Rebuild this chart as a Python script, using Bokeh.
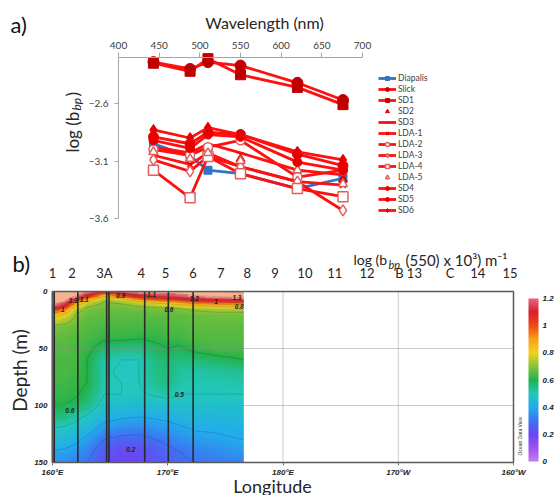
import numpy as np
from bokeh.plotting import figure
from bokeh.models import (Range1d, LinearAxis, FixedTicker, Label, Legend, LegendItem,
                          LinearColorMapper, ColorBar)
from bokeh.embed import file_html
from bokeh.resources import INLINE
from bokeh.core.properties import value

# ---------------- Panel a data ----------------
wavelength_nm = [443, 488, 510, 550, 620, 676]
diapalis = [-2.95, -3.06, -3.18, -3.21, -3.34, -3.25]
slick = [-2.24, -2.30, -2.24, -2.27, -2.42, -2.57]
sd1 = [-2.25, -2.32, -2.21, -2.35, -2.46, -2.61]
sd2 = [-3.02, -3.08, -2.98, -3.08, -3.18, -3.26]
sd3 = [-2.98, -3.03, -2.95, -3.03, -3.18, -3.22]
lda1 = [-3.05, -3.13, -3.03, -3.15, -3.28, -3.31]
lda2 = [-3.00, -3.05, -2.98, -2.92, -3.24, -3.18]
lda3 = [-3.09, -3.19, -3.06, -3.15, -3.28, -3.53]
lda4 = [-3.18, -3.42, -3.06, -3.21, -3.34, -3.41]
lda5 = [-3.02, -3.08, -3.03, -3.10, -3.18, -3.30]
sd4 = [-2.92, -2.99, -2.87, -2.89, -3.11, -3.18]
sd5 = [-2.89, -2.95, -2.85, -2.87, -3.04, -3.14]
sd6 = [-2.83, -2.90, -2.81, -2.87, -3.02, -3.09]
wl_ticks = [400, 450, 500, 550, 600, 650, 700]
logbbp_ticks = [-3.6, -3.1, -2.6]

# ---------------- Panel b data ----------------
depth_nodes = [0, 3, 6, 9, 12, 15, 20, 30, 40, 50, 60, 70, 80, 90, 100, 110, 120, 130, 140, 150]
lon_nodes = [160, 161, 162, 163, 164.5, 166, 167.5, 169, 170, 171, 172.5, 174.5, 176.6]
bbp_profiles = [
    [1.30, 1.30, 1.28, 1.25, 1.20, 1.08, 0.85, 0.70, 0.66, 0.65, 0.64, 0.64, 0.63, 0.62, 0.60, 0.56, 0.50, 0.45, 0.40, 0.36],
    [1.30, 1.30, 1.26, 1.20, 1.10, 0.95, 0.80, 0.68, 0.66, 0.65, 0.64, 0.64, 0.63, 0.62, 0.60, 0.55, 0.49, 0.44, 0.39, 0.35],
    [1.28, 1.24, 1.12, 0.95, 0.82, 0.74, 0.70, 0.67, 0.65, 0.64, 0.64, 0.63, 0.62, 0.61, 0.58, 0.52, 0.47, 0.42, 0.37, 0.33],
    [1.22, 1.10, 0.90, 0.78, 0.72, 0.69, 0.67, 0.65, 0.64, 0.62, 0.60, 0.60, 0.60, 0.58, 0.55, 0.49, 0.44, 0.38, 0.33, 0.30],
    [1.12, 0.85, 0.74, 0.70, 0.68, 0.67, 0.66, 0.64, 0.62, 0.56, 0.52, 0.51, 0.51, 0.50, 0.47, 0.43, 0.37, 0.30, 0.25, 0.23],
    [1.18, 1.00, 0.82, 0.72, 0.69, 0.67, 0.66, 0.64, 0.62, 0.55, 0.50, 0.49, 0.50, 0.50, 0.46, 0.41, 0.35, 0.27, 0.21, 0.20],
    [1.25, 1.12, 0.95, 0.78, 0.71, 0.68, 0.66, 0.64, 0.61, 0.55, 0.50, 0.50, 0.50, 0.49, 0.45, 0.40, 0.34, 0.27, 0.22, 0.21],
    [1.25, 1.15, 1.02, 0.85, 0.73, 0.69, 0.66, 0.64, 0.62, 0.58, 0.56, 0.55, 0.54, 0.51, 0.46, 0.41, 0.36, 0.30, 0.25, 0.24],
    [1.25, 1.16, 1.05, 0.88, 0.75, 0.69, 0.66, 0.65, 0.63, 0.60, 0.57, 0.56, 0.55, 0.52, 0.47, 0.42, 0.37, 0.32, 0.28, 0.26],
    [1.26, 1.18, 1.08, 0.92, 0.78, 0.70, 0.66, 0.65, 0.63, 0.59, 0.55, 0.53, 0.52, 0.50, 0.47, 0.43, 0.39, 0.35, 0.30, 0.28],
    [1.28, 1.22, 1.12, 1.00, 0.82, 0.72, 0.67, 0.66, 0.65, 0.62, 0.56, 0.52, 0.51, 0.50, 0.47, 0.44, 0.41, 0.37, 0.33, 0.30],
    [1.30, 1.26, 1.15, 1.02, 0.85, 0.74, 0.68, 0.66, 0.65, 0.64, 0.58, 0.53, 0.51, 0.50, 0.47, 0.44, 0.41, 0.39, 0.35, 0.32],
    [1.32, 1.28, 1.18, 1.05, 0.85, 0.74, 0.68, 0.66, 0.65, 0.64, 0.60, 0.54, 0.52, 0.50, 0.47, 0.45, 0.42, 0.40, 0.37, 0.33],
]
contour_levels = [0.2, 0.3, 0.4, 0.5, 0.6, 0.7, 0.8, 0.9, 1.0, 1.1, 1.2, 1.3]
station_line_lons = [160.0, 160.15, 162.2, 164.7, 164.9, 168.0, 170.05, 172.2]
station_names = ["1", "2", "3A", "4", "5", "6", "7", "8", "9", "10", "11", "12", "B", "13", "C", "14", "15"]
station_lons = [160.0, 161.7, 164.5, 167.7, 169.8, 172.2, 174.6, 176.9, 179.3, 181.9, 184.5, 187.3, 190.1, 191.4, 194.5, 196.9, 199.7]
lon_ticks = [160, 170, 180, 190, 200]
lon_tick_labels = ["160°E", "170°E", "180°E", "170°W", "160°W"]
depth_ticks = [0, 50, 100, 150]
grid_lons = [180, 190]
grid_depths = [50, 100]
cbar_ticks = [0, 0.2, 0.4, 0.6, 0.8, 1.0, 1.2]
cbar_tick_labels = ["0", "0.2", "0.4", "0.6", "0.8", "1", "1.2"]
contour_lbl_lon = [161.8, 162.75, 160.9, 165.9, 168.6, 172.3, 174.2, 176.0, 176.2, 170.1, 161.5, 171.0, 166.8]
contour_lbl_dep = [8, 7, 16, 3.5, 3, 6.5, 9, 5, 13, 16, 104, 90, 139]
contour_lbl_txt = ["1.3", "1.1", "1", "0.9", "1.1", "1.2", "1", "1.3", "0.8", "0.6", "0.6", "0.5", "0.2"]

SANS = "Lato"
ODV = "Liberation Sans"
RED = "#FF1010"
DRED = "#C00000"
MRED = "#E80000"
OPEN = "#E06060"
BLUE = "#2E75C6"
TXT = "#262626"


def lab(p, x, y, text, size, **kw):
    p.add_layout(Label(x=x, y=y, x_units="screen", y_units="screen", text=text,
                       text_font=kw.pop("font", SANS), text_font_size=size,
                       text_color=kw.pop("color", TXT), **kw))


# ---------------- Panel a (frame = whole canvas; axes at fixed locations) ----------------
WA, HA = 556, 243
pa = figure(width=WA, height=HA, x_range=Range1d(254.918, 938.525), y_range=Range1d(-3.81739, -1.70435),
            output_backend="svg", toolbar_location=None, min_border=0,
            min_border_left=0, min_border_right=0, min_border_top=0, min_border_bottom=0,
            x_axis_type=None, y_axis_type=None)
pa.title.visible = False
pa.outline_line_color = None
pa.grid.visible = False

xa = LinearAxis(fixed_location=-2.2, bounds=(400, 700), ticker=FixedTicker(ticks=wl_ticks))
xa.major_tick_out = 5
xa.major_tick_in = 0
xa.minor_tick_line_color = None
xa.axis_line_color = "#A6A6A6"
xa.major_tick_line_color = "#A6A6A6"
xa.major_label_text_font = SANS
xa.major_label_text_font_size = "10px"
xa.major_label_text_color = "#404040"
xa.major_label_standoff = 3
pa.add_layout(xa, "above")

ya = LinearAxis(fixed_location=400, bounds=(-3.6, -2.2), ticker=FixedTicker(ticks=logbbp_ticks))
ya.major_tick_out = 4
ya.major_tick_in = 0
ya.minor_tick_line_color = None
ya.axis_line_color = "#A6A6A6"
ya.major_tick_line_color = "#A6A6A6"
ya.major_label_text_font = SANS
ya.major_label_text_font_size = "10px"
ya.major_label_text_color = "#404040"
ya.major_label_standoff = 6
pa.add_layout(ya, "left")

series = [
    ("Diapalis", diapalis, dict(line=BLUE, marker="square", size=8, fill=BLUE, mline=BLUE)),
    ("Slick", slick, dict(line=RED, marker="circle", size=11, fill=DRED, mline=DRED)),
    ("SD1", sd1, dict(line=RED, marker="square", size=10, fill=DRED, mline=DRED)),
    ("SD2", sd2, dict(line=None, marker="triangle", size=9, fill=MRED, mline=MRED)),
    ("SD3", sd3, dict(line=RED, marker="dash", size=7, fill=MRED, mline=MRED)),
    ("LDA-1", lda1, dict(line=RED, marker="x", size=8, fill=None, mline=MRED)),
    ("LDA-2", lda2, dict(line=RED, marker="circle", size=9, fill="white", mline=OPEN)),
    ("LDA-3", lda3, dict(line=RED, marker="diamond", size=11, fill="white", mline=OPEN)),
    ("LDA-4", lda4, dict(line=RED, marker="square", size=10, fill="white", mline=OPEN)),
    ("LDA-5", lda5, dict(line=None, marker="triangle", size=9, fill="white", mline=OPEN)),
    ("SD4", sd4, dict(line=RED, marker="circle", size=9, fill=MRED, mline=MRED)),
    ("SD5", sd5, dict(line=RED, marker="circle", size=10, fill=MRED, mline=MRED)),
    ("SD6", sd6, dict(line=RED, marker="diamond", size=11, fill=MRED, mline=MRED)),
]
items = []
for name, vals, st in series:
    rends = []
    if st["line"] is not None:
        rends.append(pa.line(wavelength_nm, vals, line_color=st["line"], line_width=2.8))
    rends.append(pa.scatter(wavelength_nm, vals, marker=st["marker"], size=st["size"],
                            fill_color=st["fill"], line_color=st["mline"],
                            line_width=1.5 if st["fill"] in (None, "white") else 1))
    items.append(LegendItem(label=name, renderers=rends))

legend = Legend(items=items, location=(378, 28.5), margin=0, padding=0, spacing=1,
                glyph_width=18, glyph_height=10, label_height=10, label_standoff=2,
                label_text_font=SANS, label_text_font_size="8.5px", label_text_color="#404040",
                border_line_color=None, background_fill_alpha=0)
pa.add_layout(legend)

lab(pa, 10, HA - 24, "a)", "22px", text_baseline="middle", color="#111111")
lab(pa, 264, HA - 22, "Wavelength (nm)", "16px", text_baseline="middle", text_align="center")
lab(pa, 72, HA - 152, "log (b", "17px", angle=np.pi / 2, text_baseline="middle", text_align="left")
lab(pa, 76, HA - 110, "bp", "12px", angle=np.pi / 2, text_baseline="middle", text_align="left",
    text_font_style="italic")
lab(pa, 72, HA - 96, ")", "17px", angle=np.pi / 2, text_baseline="middle", text_align="left")

# ---------------- Panel b ----------------
stops = [(0.0, "#C77CF2"), (0.1, "#9A52F5"), (0.2, "#6B45F2"), (0.3, "#3E73F2"), (0.4, "#22ACEB"),
         (0.5, "#22C8BC"), (0.6, "#22B24A"), (0.7, "#86C23A"), (0.8, "#F2D21E"), (0.9, "#F7A21A"),
         (1.0, "#EE4A14"), (1.1, "#D81E2C"), (1.2, "#E5667C")]


def hex2rgb(h):
    return [int(h[i:i + 2], 16) for i in (1, 3, 5)]


sv = [s[0] for s in stops]
sc = np.array([hex2rgb(s[1]) for s in stops], dtype=float)
palette = []
for t in np.linspace(0, 1.2, 256):
    rgb = [int(round(np.interp(t, sv, sc[:, k]))) for k in range(3)]
    palette.append("#%02x%02x%02x" % tuple(rgb))

mapper = LinearColorMapper(palette=palette, low=0, high=1.2, high_color="#F5B38E", low_color="#C77CF2")

P = np.array(bbp_profiles)
dep_f = np.linspace(0, 150, 151)
lon_f = np.linspace(lon_nodes[0], lon_nodes[-1], 167)
tmp = np.array([np.interp(dep_f, depth_nodes, col) for col in P])
Z = np.array([np.interp(lon_f, lon_nodes, tmp[:, j]) for j in range(len(dep_f))])

WB, HB = 556, 252
pb = figure(width=WB, height=HB, x_range=Range1d(155.488, 203.731), y_range=Range1d(178.947, -42.105),
            output_backend="svg", toolbar_location=None, min_border=0,
            min_border_left=0, min_border_right=0, min_border_top=0, min_border_bottom=0,
            x_axis_type=None, y_axis_type=None)
pb.title.visible = False
pb.outline_line_color = None
pb.grid.visible = False

pb.image(image=[Z], x=lon_nodes[0], y=0, dw=lon_nodes[-1] - lon_nodes[0], dh=150, color_mapper=mapper)
pb.contour(lon_f, dep_f, Z, levels=contour_levels, line_color="#1a1a1a", line_alpha=0.28,
           line_width=0.6)
pb.segment(x0=grid_lons, y0=[0] * len(grid_lons), x1=grid_lons, y1=[150] * len(grid_lons),
           line_color="#8a8a8a", line_alpha=0.45, line_width=1)
pb.segment(x0=[160] * len(grid_depths), y0=grid_depths, x1=[200] * len(grid_depths), y1=grid_depths,
           line_color="#8a8a8a", line_alpha=0.45, line_width=1)
pb.segment(x0=station_line_lons, y0=[0] * len(station_line_lons), x1=station_line_lons,
           y1=[150] * len(station_line_lons), line_color="#2a2a2a", line_width=1.6)
pb.quad(left=[160], right=[200], top=[0], bottom=[150], fill_color=None, line_color="#5a5a5a",
        line_width=1.5)
pb.text(x=contour_lbl_lon, y=contour_lbl_dep, text=contour_lbl_txt, text_font=value(ODV),
        text_font_size="6.5px", text_font_style="bold italic", text_color="#222222",
        text_align="center", text_baseline="middle")

xb = LinearAxis(fixed_location=150, bounds=(160, 200), ticker=FixedTicker(ticks=lon_ticks),
                major_label_overrides={t: l for t, l in zip(lon_ticks, lon_tick_labels)})
xb.axis_line_color = None
xb.major_tick_out = 3
xb.major_tick_in = 0
xb.major_tick_line_color = "#777777"
xb.minor_tick_line_color = None
xb.major_label_text_font = ODV
xb.major_label_text_font_size = "8px"
xb.major_label_text_font_style = "bold italic"
xb.major_label_text_color = "#222222"
xb.major_label_standoff = 2
pb.add_layout(xb, "below")

yb = LinearAxis(fixed_location=160, bounds=(0, 150), ticker=FixedTicker(ticks=depth_ticks))
yb.axis_line_color = None
yb.major_tick_out = 0
yb.major_tick_in = 0
yb.major_tick_line_color = None
yb.minor_tick_line_color = None
yb.major_label_text_font = ODV
yb.major_label_text_font_size = "8px"
yb.major_label_text_font_style = "bold italic"
yb.major_label_text_color = "#222222"
yb.major_label_standoff = 5
pb.add_layout(yb, "left")

top_axis = LinearAxis(fixed_location=0, bounds=(160, 200), ticker=FixedTicker(ticks=station_lons),
                      major_label_overrides={t: n for t, n in zip(station_lons, station_names)})
top_axis.axis_line_color = None
top_axis.major_tick_line_color = None
top_axis.minor_tick_line_color = None
top_axis.major_label_text_font = SANS
top_axis.major_label_text_font_size = "13px"
top_axis.major_label_text_color = TXT
top_axis.major_label_standoff = 4
pb.add_layout(top_axis, "above")

cbar = ColorBar(color_mapper=mapper, ticker=FixedTicker(ticks=cbar_ticks),
                major_label_overrides={t: l for t, l in zip(cbar_ticks, cbar_tick_labels)},
                width=10, height=163, location=(528, HB - 218), margin=0, padding=0,
                label_standoff=4, major_tick_line_color=None, bar_line_color=None,
                major_label_text_font=ODV, major_label_text_font_size="8px",
                major_label_text_font_style="bold italic", major_label_text_color="#222222",
                background_fill_alpha=0, border_line_color=None)
pb.add_layout(cbar)

lab(pb, 12, HB - 20, "b)", "22px", text_baseline="middle", color="#111111")
lab(pb, 353, HB - 16, "log (b", "14px", text_baseline="middle")
lab(pb, 388, HB - 21, "bp", "11px", text_baseline="middle", text_font_style="italic")
lab(pb, 405, HB - 16, "(550) x 10³) m⁻¹", "15px", text_baseline="middle")
lab(pb, 19, HB - 127, "Depth (m)", "19px", angle=np.pi / 2, text_align="center", text_baseline="middle")
lab(pb, 272, 10, "Longitude", "18px", text_align="center", text_baseline="middle")
lab(pb, 519, HB - 212, "Ocean Data View", "5px", angle=np.pi / 2, text_align="left",
    text_baseline="middle", font=ODV, color="#333333")

open("out.html", "w").write(file_html([pa, pb], INLINE))
